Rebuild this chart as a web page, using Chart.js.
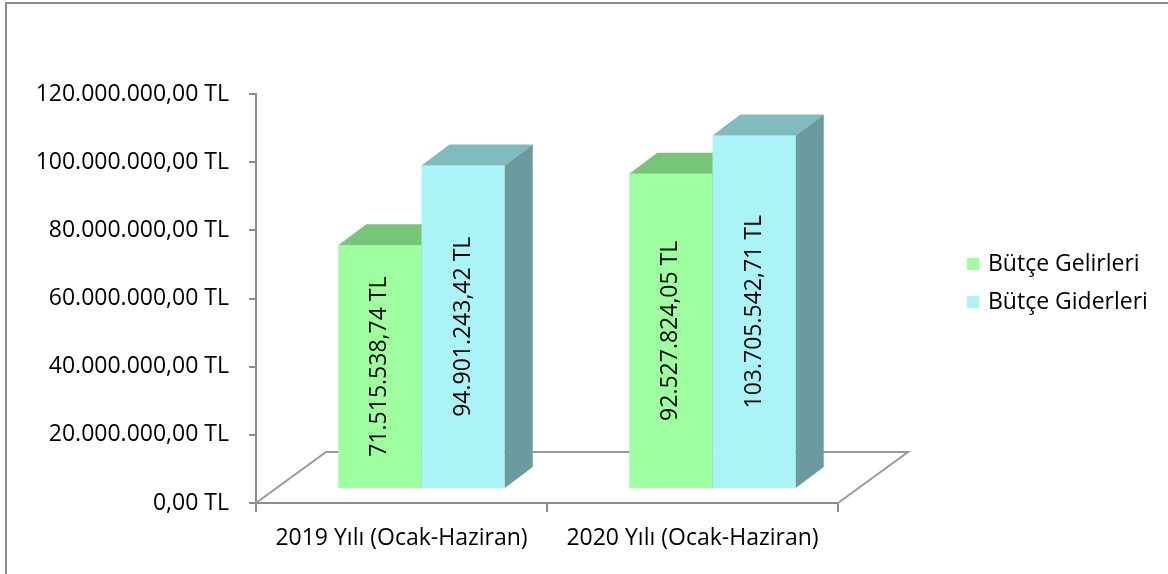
<!DOCTYPE html>
<html>
<head>
<meta charset="utf-8">
<script src="https://cdn.jsdelivr.net/npm/chart.js@4/dist/chart.umd.min.js"></script>
<style>
  html, body { margin: 0; padding: 0; background: #fff; }
  #wrap { position: relative; width: 1168px; height: 574px; overflow: hidden; }
  #frame {
    position: absolute; left: 5px; top: 2px; width: 1200px; height: 600px;
    border-top: 2px solid #8a8a8a; border-left: 2px solid #8a8a8a;
    pointer-events: none;
  }
</style>
</head>
<body>
<div id="wrap">
  <canvas id="budgetChart" width="1168" height="574"></canvas>
  <div id="frame"></div>
</div>
<script>
const categories = ["2019 Yılı (Ocak-Haziran)", "2020 Yılı (Ocak-Haziran)"];
const seriesNames = ["Bütçe Gelirleri", "Bütçe Giderleri"];
const gelirler = [71515538.74, 92527824.05];
const giderler = [94901243.42, 103705542.71];
const yTicks = [0, 20000000, 40000000, 60000000, 80000000, 100000000, 120000000];

const FONT = { family: "Open Sans", size: 23 };
const AXIS_GRAY = "#8c8c8c";

// 3D projection offsets
const FLOOR_DEPTH = { x: 70, y: -51 };
const BAR_SHIFT = { x: 20, y: -14 };
const BAR_DEPTH = { x: 28, y: -21 };

function formatTL(v) {
  const parts = Number(v).toFixed(2).split(".");
  const intPart = parts[0].replace(/\B(?=(\d{3})+(?!\d))/g, ".");
  return `${intPart},${parts[1]} TL`;
}

const bars3d = {
  id: "bars3d",
  beforeDatasetsDraw(chart) {
    const ctx = chart.ctx;
    const { left, right } = chart.chartArea;
    const y0 = chart.scales.y.getPixelForValue(0);
    ctx.save();
    ctx.strokeStyle = "#999999";
    ctx.lineWidth = 2;
    ctx.beginPath();
    ctx.moveTo(left, y0);
    ctx.lineTo(left + FLOOR_DEPTH.x, y0 + FLOOR_DEPTH.y);
    ctx.lineTo(right + FLOOR_DEPTH.x, y0 + FLOOR_DEPTH.y);
    ctx.lineTo(right, y0);
    ctx.stroke();
    ctx.restore();
  },
  beforeDatasetDraw() {
    return false;
  },
  afterDatasetsDraw(chart) {
    const ctx = chart.ctx;
    ctx.save();
    ctx.translate(BAR_SHIFT.x, BAR_SHIFT.y);
    const n = chart.data.labels.length;
    for (let i = 0; i < n; i++) {
      chart.data.datasets.forEach((ds, d) => {
        const el = chart.getDatasetMeta(d).data[i];
        const { x, y, base, width } = el.getProps(["x", "y", "base", "width"], true);
        const l = x - width / 2;
        const r = x + width / 2;
        el.draw(ctx);

        ctx.fillStyle = ds.topColor;
        ctx.beginPath();
        ctx.moveTo(l, y);
        ctx.lineTo(l + BAR_DEPTH.x, y + BAR_DEPTH.y);
        ctx.lineTo(r + BAR_DEPTH.x, y + BAR_DEPTH.y);
        ctx.lineTo(r, y);
        ctx.closePath();
        ctx.fill();

        ctx.fillStyle = ds.sideColor;
        ctx.beginPath();
        ctx.moveTo(r, y);
        ctx.lineTo(r + BAR_DEPTH.x, y + BAR_DEPTH.y);
        ctx.lineTo(r + BAR_DEPTH.x, base + BAR_DEPTH.y);
        ctx.lineTo(r, base);
        ctx.closePath();
        ctx.fill();
      });
    }

    ctx.fillStyle = "#000";
    ctx.font = `${FONT.size}px "${FONT.family}"`;
    ctx.textAlign = "center";
    ctx.textBaseline = "middle";
    chart.data.datasets.forEach((ds, d) => {
      chart.getDatasetMeta(d).data.forEach((el, i) => {
        const { x, y, base } = el.getProps(["x", "y", "base"], true);
        ctx.save();
        ctx.translate(x, (y + base) / 2);
        ctx.rotate(-Math.PI / 2);
        ctx.fillText(formatTL(ds.data[i]), 0, 0);
        ctx.restore();
      });
    });
    ctx.restore();
  },
  // legend on the right, drawn here so it can sit apart from the plot
  afterDraw(chart) {
    const ctx = chart.ctx;
    const boxX = chart.chartArea.right + 129;
    const firstY = chart.height / 2 - 23;
    ctx.save();
    ctx.font = `${FONT.size}px "${FONT.family}"`;
    ctx.textAlign = "left";
    ctx.textBaseline = "middle";
    chart.data.datasets.forEach((ds, d) => {
      const cy = firstY + d * 38;
      ctx.fillStyle = ds.backgroundColor;
      ctx.fillRect(boxX, cy - 6, 12, 12);
      ctx.fillStyle = "#000";
      ctx.fillText(ds.label, boxX + 21, cy);
    });
    ctx.restore();
  },
};

new Chart(document.getElementById("budgetChart"), {
  type: "bar",
  data: {
    labels: categories,
    datasets: [
      {
        label: seriesNames[0],
        data: gelirler,
        backgroundColor: "#9dff9d",
        topColor: "#77c577",
        sideColor: "#5f9e5f",
        borderWidth: 0,
        categoryPercentage: 0.572,
        barPercentage: 1,
      },
      {
        label: seriesNames[1],
        data: giderler,
        backgroundColor: "#aaf3f6",
        topColor: "#80bbbe",
        sideColor: "#6b9b9e",
        borderWidth: 0,
        categoryPercentage: 0.572,
        barPercentage: 1,
      },
    ],
  },
  options: {
    responsive: false,
    animation: false,
    devicePixelRatio: 1,
    layout: { padding: { top: 94, left: 0, right: 330, bottom: 0 } },
    plugins: {
      legend: { display: false },
      tooltip: { enabled: false },
    },
    scales: {
      x: {
        grid: { drawOnChartArea: false, tickLength: 9, color: AXIS_GRAY, lineWidth: 2, offset: true },
        border: { color: AXIS_GRAY, width: 2 },
        ticks: { color: "#000", font: FONT, padding: 13, maxRotation: 0 },
        afterFit: (scale) => {
          scale.height = 71;
        },
      },
      y: {
        min: 0,
        max: 120000000,
        afterBuildTicks: (scale) => {
          scale.ticks = yTicks.map((v) => ({ value: v }));
        },
        grid: { drawOnChartArea: false, tickLength: 7, color: AXIS_GRAY, lineWidth: 2 },
        border: { color: AXIS_GRAY, width: 2 },
        ticks: { color: "#000", font: FONT, padding: 20, callback: (v) => formatTL(v) },
        afterFit: (scale) => {
          scale.width = 256;
        },
      },
    },
  },
  plugins: [bars3d],
});
</script>
</body>
</html>
